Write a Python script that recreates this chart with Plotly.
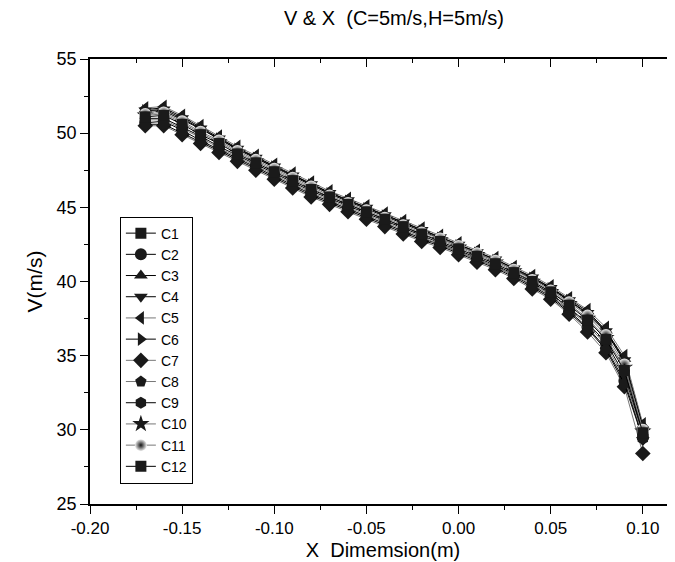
import plotly.graph_objects as go

x_vals = [-0.17, -0.16, -0.15, -0.14, -0.13, -0.12, -0.11, -0.10, -0.09, -0.08,
          -0.07, -0.06, -0.05, -0.04, -0.03, -0.02, -0.01, 0.00, 0.01, 0.02,
          0.03, 0.04, 0.05, 0.06, 0.07, 0.08, 0.09, 0.10]

C1 = [51.0, 51.0, 50.4, 49.8, 49.1, 48.5, 47.9, 47.3, 46.7, 46.1, 45.6, 45.1, 44.6, 44.1,
      43.6, 43.1, 42.6, 42.1, 41.6, 41.1, 40.5, 39.9, 39.2, 38.2, 37.2, 35.9, 33.7, 29.7]
C2 = [50.7, 50.8, 50.2, 49.5, 48.9, 48.3, 47.7, 47.1, 46.5, 45.9, 45.4, 44.9, 44.4, 43.9,
      43.4, 42.9, 42.5, 42.0, 41.5, 41.0, 40.4, 39.7, 39.0, 38.0, 36.9, 35.5, 33.3, 29.5]
C3 = [51.6, 51.7, 51.1, 50.4, 49.7, 49.0, 48.4, 47.8, 47.2, 46.6, 46.0, 45.5, 45.0, 44.5,
      44.0, 43.5, 43.0, 42.5, 42.0, 41.5, 40.9, 40.3, 39.6, 38.8, 38.0, 36.7, 34.8, 30.3]
C4 = [51.52, 51.6, 51.0, 50.32, 49.64, 48.95, 48.35, 47.75, 47.15, 46.55, 45.97, 45.47, 44.97, 44.47,
      43.97, 43.47, 42.98, 42.48, 41.98, 41.48, 40.88, 40.27, 39.57, 38.74, 37.88, 36.65, 34.69, 29.3]
C5 = [51.7, 51.8, 51.2, 50.5, 49.8, 49.1, 48.5, 47.9, 47.3, 46.7, 46.1, 45.6, 45.1, 44.6,
      44.1, 43.6, 43.1, 42.6, 42.1, 41.6, 41.0, 40.4, 39.7, 38.9, 38.1, 36.9, 35.0, 30.4]
C6 = [51.5, 51.5, 50.9, 50.3, 49.6, 48.9, 48.3, 47.7, 47.1, 46.5, 45.9, 45.4, 44.9, 44.4,
      43.9, 43.4, 42.9, 42.4, 41.9, 41.4, 40.8, 40.2, 39.5, 38.7, 37.8, 36.6, 34.6, 30.2]
C7 = [50.5, 50.5, 49.9, 49.3, 48.7, 48.1, 47.5, 46.9, 46.3, 45.7, 45.2, 44.7, 44.2, 43.7,
      43.2, 42.7, 42.3, 41.8, 41.3, 40.8, 40.2, 39.5, 38.8, 37.8, 36.6, 35.2, 32.9, 28.4]
C8 = [50.9, 50.9, 50.3, 49.7, 49.0, 48.4, 47.8, 47.2, 46.6, 46.0, 45.5, 45.0, 44.5, 44.0,
      43.5, 43.0, 42.5, 42.0, 41.5, 41.0, 40.4, 39.8, 39.1, 38.1, 37.1, 35.7, 33.5, 29.6]
C9 = [50.6, 50.6, 50.0, 49.4, 48.8, 48.2, 47.6, 47.0, 46.4, 45.8, 45.3, 44.8, 44.3, 43.8,
      43.3, 42.8, 42.4, 41.9, 41.4, 40.9, 40.3, 39.6, 38.9, 37.9, 36.8, 35.4, 33.1, 29.4]
C10 = [51.2, 51.3, 50.7, 50.0, 49.4, 48.7, 48.1, 47.5, 46.9, 46.3, 45.7, 45.2, 44.7, 44.2,
       43.7, 43.2, 42.8, 42.3, 41.8, 41.3, 40.7, 40.0, 39.3, 38.5, 37.5, 36.2, 34.2, 29.9]
C11 = [51.3, 51.4, 50.8, 50.1, 49.5, 48.8, 48.2, 47.6, 47.0, 46.4, 45.8, 45.3, 44.8, 44.3,
       43.8, 43.3, 42.9, 42.4, 41.9, 41.4, 40.8, 40.1, 39.4, 38.6, 37.7, 36.4, 34.4, 30.0]
C12 = [51.1, 51.2, 50.6, 49.9, 49.3, 48.6, 48.0, 47.4, 46.8, 46.2, 45.7, 45.2, 44.7, 44.2,
       43.7, 43.2, 42.7, 42.2, 41.7, 41.2, 40.6, 40.0, 39.3, 38.4, 37.4, 36.1, 34.0, 29.8]

names = ["C1", "C2", "C3", "C4", "C5", "C6", "C7", "C8", "C9", "C10", "C11", "C12"]
series = [C1, C2, C3, C4, C5, C6, C7, C8, C9, C10, C11, C12]
symbols = ["square", "circle", "triangle-up", "triangle-down", "triangle-left",
           "triangle-right", "diamond", "pentagon", "hexagon", "star", "circle", "square"]
line_colors = ["#000000", "#000000", "#000000", "#000000", "#777777", "#000000",
               "#777777", "#777777", "#000000", "#777777", "#777777", "#000000"]
sizes = [11, 12, 12, 12, 12, 12, 12, 12, 12, 13, 12, 11]

x_tickvals = [-0.20, -0.15, -0.10, -0.05, 0.00, 0.05, 0.10]
x_ticktext = ["-0.20", "-0.15", "-0.10", "-0.05", "0.00", "0.05", "0.10"]
y_tickvals = [25, 30, 35, 40, 45, 50, 55]
y_ticktext = ["25", "30", "35", "40", "45", "50", "55"]

FONT = "Liberation Sans, Arial, sans-serif"

fig = go.Figure()
for nm, ys, sym, lc, sz in zip(names, series, symbols, line_colors, sizes):
    marker = dict(symbol=sym, size=sz, color="#1a1a1a", line=dict(width=0))
    if nm == "C11":
        marker = dict(symbol="circle", size=sz, color="#f0f0f0",
                      gradient=dict(type="radial", color="#111111"),
                      line=dict(width=0))
    fig.add_trace(go.Scatter(x=x_vals, y=ys, name=nm, mode="lines+markers",
                             line=dict(color=lc, width=1), marker=marker))

# empty trace for the mirrored tick axes
fig.add_trace(go.Scatter(x=[], y=[], xaxis="x2", yaxis="y2", showlegend=False,
                         hoverinfo="skip"))

xr = [-0.2, 0.118]
yr = [25, 55]

fig.update_layout(
    width=675, height=562,
    margin=dict(l=82, r=5, t=51, b=66),
    paper_bgcolor="white", plot_bgcolor="white",
    font=dict(family=FONT, color="black", size=17),
    title=dict(text="V &amp; X\u00a0\u00a0(C=5m/s,H=5m/s)", x=386 / 675, xref="container",
               xanchor="center", y=0.982, yanchor="middle",
               font=dict(size=20, family=FONT, color="black")),
    xaxis=dict(range=xr, tickmode="array", tickvals=x_tickvals, ticktext=x_ticktext,
               showgrid=False, zeroline=False, showline=True, linecolor="black",
               linewidth=1.5, mirror=True, ticks="outside", ticklen=8, tickwidth=1.2,
               tickcolor="black", tickfont=dict(size=17), automargin=False,
               minor=dict(ticks="outside", ticklen=4, dtick=0.025, tick0=-0.2,
                          tickcolor="black", tickwidth=1.2, showgrid=False),
               title=dict(text="X\u00a0\u00a0Dimemsion(m)", font=dict(size=20), standoff=6)),
    yaxis=dict(range=yr, tickmode="array", tickvals=y_tickvals, ticktext=y_ticktext,
               showgrid=False, zeroline=False,
               showline=True, linecolor="black", linewidth=1.5, mirror=True,
               ticks="outside", ticklen=8, tickwidth=1.2, tickcolor="black",
               tickfont=dict(size=18),
               minor=dict(ticks="outside", ticklen=4, dtick=2.5, tick0=25,
                          tickcolor="black", tickwidth=1.2, showgrid=False),
               title=dict(text="V(m/s)", font=dict(size=21), standoff=8)),
    xaxis2=dict(range=xr, overlaying="x", side="top", anchor="y", dtick=0.05, tick0=-0.2,
                showticklabels=False, showgrid=False, zeroline=False, showline=False,
                ticks="inside", ticklen=8, tickwidth=1.2, tickcolor="black",
                minor=dict(ticks="inside", ticklen=4, dtick=0.025, tick0=-0.2,
                           tickcolor="black", tickwidth=1.2, showgrid=False)),
    yaxis2=dict(range=yr, overlaying="y", side="right", anchor="x", dtick=5, tick0=25,
                showticklabels=False, showgrid=False, zeroline=False, showline=False,
                ticks="inside", ticklen=8, tickwidth=1.2, tickcolor="black",
                minor=dict(ticks="inside", ticklen=4, dtick=2.5, tick0=25,
                           tickcolor="black", tickwidth=1.2, showgrid=False)),
    legend=dict(x=0.051, y=0.646, xanchor="left", yanchor="top",
                bgcolor="white", bordercolor="black", borderwidth=1,
                font=dict(size=14, family=FONT), itemwidth=30,
                tracegroupgap=0),
    showlegend=True,
)

fig.write_html("out.html")
